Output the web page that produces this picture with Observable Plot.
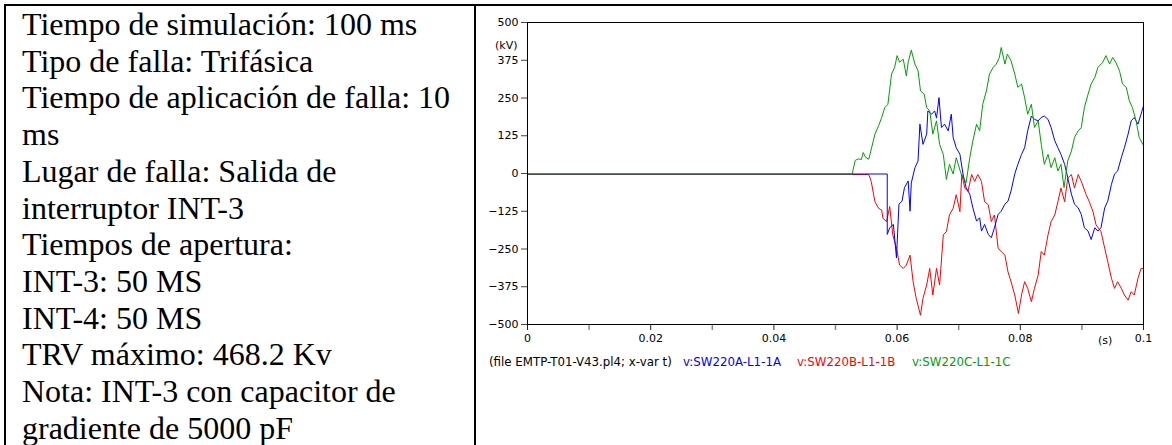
<!DOCTYPE html>
<html>
<head>
<meta charset="utf-8">
<script src="https://cdn.jsdelivr.net/npm/d3@7"></script>
<script src="https://cdn.jsdelivr.net/npm/@observablehq/plot@0.6"></script>
<style>
  html, body { margin: 0; padding: 0; background: #fff; }
  #page { position: relative; width: 1172px; height: 445px; overflow: hidden; background: #fff; }
  .rule { position: absolute; background: #000; }
  #info { position: absolute; left: 22px; top: 6px; font-family: "Liberation Serif", "Times New Roman", serif;
          font-size: 32px; line-height: 36.7px; color: #000; white-space: nowrap; }
  .lbl { position: absolute; font-family: "DejaVu Sans", sans-serif; font-size: 11px; line-height: 13px; white-space: nowrap; color: #000; }
  .leg { font-size: 11.8px; }
  #chart { position: absolute; left: 475px; top: 5px; }
</style>
</head>
<body>
<div id="page">
  <div class="rule" style="left:4px; top:4px; width:1168px; height:1.5px;"></div>
  <div class="rule" style="left:4px; top:4px; width:2px; height:441px;"></div>
  <div class="rule" style="left:474px; top:4px; width:2px; height:441px;"></div>
  <div id="info"></div>
  <div id="chart"></div>
  <div class="lbl" id="ylab" style="left:495px; top:39px;"></div>
  <div class="lbl" id="xlab" style="left:1098px; top:334px;"></div>
  <div id="legend"></div>
</div>
<script>
// ---- text of the left cell ----
const infoLines = [
  "Tiempo de simulación: 100 ms",
  "Tipo de falla: Trifásica",
  "Tiempo de aplicación de falla: 10",
  "ms",
  "Lugar de falla: Salida de",
  "interruptor INT-3",
  "Tiempos de apertura:",
  "INT-3: 50 MS",
  "INT-4: 50 MS",
  "TRV máximo: 468.2 Kv",
  "Nota: INT-3 con capacitor de",
  "gradiente de 5000 pF"
];

// ---- axis ticks ----
const xTicks = [0, 0.02, 0.04, 0.06, 0.08, 0.1];
const xMinorTicks = [0.01, 0.03, 0.05, 0.07, 0.09];
const yTicks = [-500, -375, -250, -125, 0, 125, 250, 375, 500];
const yUnit = "(kV)";
const xUnit = "(s)";

// ---- legend ----
const fileNote = "(file EMTP-T01-V43.pl4; x-var t)";
const seriesNames = ["v:SW220A-L1-1A", "v:SW220B-L1-1B", "v:SW220C-L1-1C"];
const seriesColors = ["#0000ff", "#ff0000", "#00a000"];

// ---- series (t in s, v in kV) ----
const tA = [0,0.0584,0.0584,0.0588,0.0594,0.0599,0.0603,0.0608,0.0612,0.0618,0.0621,0.0623,0.0629,0.0634,0.0637,0.0642,0.0648,0.065,0.0656,0.0661,0.0664,0.0668,0.0672,0.0677,0.0683,0.0688,0.0691,0.0696,0.0702,0.0707,0.0712,0.0718,0.0723,0.0729,0.0734,0.0737,0.0742,0.0748,0.0753,0.0758,0.0764,0.0769,0.0775,0.078,0.0785,0.0791,0.0796,0.0802,0.0807,0.0812,0.0818,0.0823,0.0829,0.0834,0.0839,0.0845,0.085,0.0856,0.0861,0.0866,0.0872,0.0877,0.0883,0.0888,0.0894,0.0899,0.0904,0.091,0.0915,0.0921,0.0926,0.0931,0.0937,0.0942,0.0948,0.0953,0.0958,0.0964,0.0969,0.0975,0.098,0.0985,0.0991,0.0996,0.1];
const vA = [0,0,-200,-178,-167,-278,-100,-90,-45,-23,-123,-30,21,43,165,98,132,209,198,209,185,253,154,165,143,198,121,87,65,0,-45,-67,-112,-156,-145,-189,-167,-200,-211,-178,-134,-123,-100,-90,-56,0,32,65,87,143,192,181,176,187,192,181,154,110,87,65,32,-12,-67,-100,-112,-134,-178,-189,-217,-178,-189,-178,-112,-90,-34,0,10,54,87,132,176,187,165,198,226];

const tB = [0,0.0554,0.0558,0.0564,0.057,0.0575,0.0577,0.0583,0.0588,0.0593,0.0599,0.0604,0.061,0.0615,0.0621,0.0626,0.0631,0.0638,0.0642,0.0648,0.0653,0.0658,0.0664,0.0669,0.0675,0.068,0.0685,0.0691,0.0696,0.0702,0.0705,0.071,0.0715,0.0721,0.0726,0.0731,0.0737,0.0742,0.0748,0.0753,0.0758,0.0764,0.0769,0.0775,0.078,0.0785,0.0791,0.0797,0.0802,0.0807,0.0812,0.0818,0.0823,0.0829,0.0834,0.0839,0.0845,0.085,0.0856,0.0861,0.0866,0.0872,0.0877,0.0883,0.0888,0.0894,0.0899,0.0907,0.0912,0.0918,0.0923,0.0931,0.0937,0.0942,0.0948,0.0953,0.0958,0.0964,0.0969,0.0975,0.098,0.0985,0.0991,0.0996,0.1];
const vB = [0,0,-23,-90,-112,-118,-145,-156,-106,-200,-244,-300,-311,-300,-267,-355,-410,-466,-410,-366,-311,-399,-311,-366,-200,-189,-134,-112,-67,-123,0,-45,-56,0,-23,0,-23,-90,-100,-156,-134,-244,-255,-267,-322,-355,-399,-460,-399,-355,-377,-421,-377,-333,-255,-267,-200,-156,-134,-90,-45,-90,-12,0,-45,0,-23,-67,-90,-123,-167,-189,-244,-289,-344,-377,-355,-377,-399,-416,-388,-399,-344,-311,-311];

const tC = [0,0.0527,0.0532,0.0537,0.0542,0.0545,0.0549,0.0554,0.0559,0.0564,0.057,0.0575,0.058,0.0585,0.0591,0.0596,0.06,0.0604,0.061,0.0615,0.0618,0.0623,0.0629,0.0634,0.0638,0.0644,0.0648,0.0653,0.0658,0.0664,0.0669,0.0675,0.068,0.0685,0.0691,0.0696,0.0704,0.0712,0.0718,0.0723,0.0729,0.0734,0.0739,0.0745,0.075,0.0756,0.0761,0.0766,0.0769,0.0775,0.0779,0.0785,0.0791,0.0796,0.0802,0.0807,0.0812,0.0818,0.0823,0.0829,0.0834,0.0839,0.0845,0.085,0.0856,0.0861,0.0866,0.0871,0.0877,0.0883,0.0888,0.0894,0.0899,0.0904,0.091,0.0915,0.0921,0.0926,0.0934,0.0939,0.0945,0.095,0.0955,0.0961,0.0966,0.0972,0.0977,0.0982,0.0988,0.0993,0.0999,0.1];
const vC = [0,0,45,50,48,71,55,49,90,132,160,187,220,230,331,353,392,370,380,325,370,410,364,342,275,264,220,209,132,176,98,65,-18,32,0,54,0,-29,54,110,165,143,231,275,331,353,364,386,419,364,397,375,331,287,298,253,198,231,154,176,98,32,65,21,54,10,32,-45,43,76,121,143,154,220,264,298,320,353,370,392,364,386,370,342,298,287,242,220,176,121,98,95];

// ---- build ----
document.getElementById("info").innerHTML = infoLines.map(s => `<div>${s}</div>`).join("");
document.getElementById("ylab").textContent = yUnit;
document.getElementById("xlab").textContent = xUnit;

const legend = document.getElementById("legend");
const legendLefts = [489, 683, 797, 912];
[fileNote, ...seriesNames].forEach((s, i) => {
  const d = document.createElement("div");
  d.className = "lbl leg";
  d.style.left = legendLefts[i] + "px";
  d.style.top = "356px";
  d.style.color = i === 0 ? "#000" : seriesColors[i - 1];
  d.textContent = s;
  legend.appendChild(d);
});

const toRows = (ts, vs, name) => ts.map((t, i) => ({t, v: vs[i], series: name}));
const rowsA = toRows(tA, vA, seriesNames[0]);
const rowsB = toRows(tB, vB, seriesNames[1]);
const rowsC = toRows(tC, vC, seriesNames[2]);

const chart = Plot.plot({
  width: 697,
  height: 345,
  marginLeft: 52,
  marginTop: 17,
  marginRight: 29,
  marginBottom: 26,
  style: {fontFamily: "DejaVu Sans, sans-serif", fontSize: "11px", color: "#000", background: "transparent", overflow: "visible"},
  x: {domain: [0, 0.1]},
  y: {domain: [-500, 500]},
  marks: [
    Plot.axisX(xMinorTicks, {tickSize: 6, stroke: "#888", strokeWidth: 1.5, text: null, label: null}),
    Plot.axisX(xTicks, {tickSize: 6, tickPadding: 4, stroke: "#222", tickFormat: d => String(+d.toFixed(2)), label: null}),
    Plot.axisY(yTicks, {tickSize: 6, tickPadding: 3, stroke: "#444", label: null}),
    Plot.line(rowsB, {x: "t", y: "v", stroke: seriesColors[1], strokeWidth: 1, dy: 1}),
    Plot.line(rowsA, {x: "t", y: "v", stroke: seriesColors[0], strokeWidth: 1, dy: 0.5}),
    Plot.line(rowsC, {x: "t", y: "v", stroke: seriesColors[2], strokeWidth: 1, dy: 0.5}),
    Plot.frame({stroke: "#000"})
  ]
});
document.getElementById("chart").appendChild(chart);
</script>
</body>
</html>
